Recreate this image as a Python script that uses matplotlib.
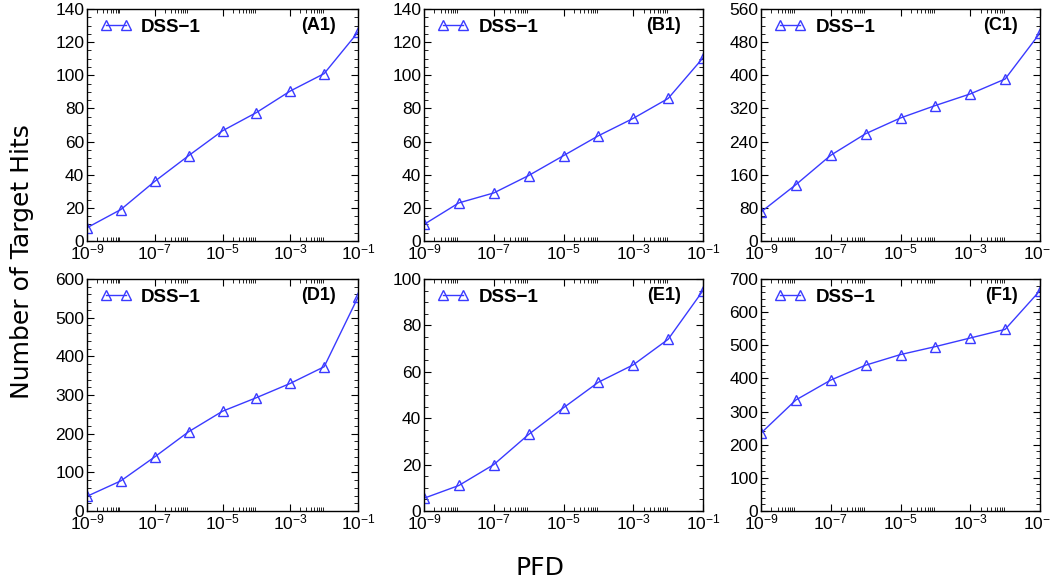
import numpy as np
import matplotlib
matplotlib.use("Agg")
import matplotlib.pyplot as plt
from matplotlib.ticker import FixedLocator, MultipleLocator

plt.rcParams['font.family'] = ['Liberation Sans', 'DejaVu Sans']
plt.rcParams['mathtext.fontset'] = 'custom'
plt.rcParams['mathtext.rm'] = 'Liberation Sans'
plt.rcParams['mathtext.it'] = 'Liberation Sans:italic'
plt.rcParams['mathtext.bf'] = 'Liberation Sans:bold'

# PFD values (x) and target hits for each panel
pfd = [1e-9, 1e-8, 1e-7, 1e-6, 1e-5, 1e-4, 1e-3, 1e-2, 1e-1]
hits_a1 = [8, 19, 36, 51.5, 66.5, 77.5, 90.5, 101, 126]
hits_b1 = [10, 23, 29, 39.5, 51.5, 63.5, 74, 86, 110.5]
hits_c1 = [70, 136, 207, 259, 297, 327, 355, 391, 502]
hits_d1 = [38, 78, 140, 205, 258, 293, 330, 373, 553]
hits_e1 = [5.5, 11, 20, 33, 44.5, 55.5, 63, 74, 95]
hits_f1 = [235, 335, 395, 440, 472, 496, 522, 548, 665]

panel_names = ["(A1)", "(B1)", "(C1)", "(D1)", "(E1)", "(F1)"]
panel_data = [hits_a1, hits_b1, hits_c1, hits_d1, hits_e1, hits_f1]
y_max = [140, 140, 560, 600, 100, 700]
y_major = [20, 20, 80, 100, 20, 100]
y_minor = [5, 5, 20, 20, 5, 20]

fig = plt.figure(figsize=(10.5, 5.82), dpi=100)
W, H = 1050, 582
lefts = [87, 424, 761]
widths = [271, 279, 279]
tops = [9, 279]
height = 232

major_x = [1e-9, 1e-7, 1e-5, 1e-3, 1e-1]
minor_x = [k * 10.0 ** d for d in (-9, -7, -5, -3) for k in range(2, 10)]

for i in range(6):
    r, c = divmod(i, 3)
    ax = fig.add_axes([lefts[c] / W, 1 - (tops[r] + height) / H, widths[c] / W, height / H])
    ax.plot(pfd, panel_data[i], color='#3a3aff', lw=1.0, marker='^', ms=7,
            mfc='none', mec='#3a3aff', mew=1.0, label='DSS\u22121')
    ax.set_xscale('log')
    ax.set_xlim(1e-9, 1e-1)
    ax.set_ylim(0, y_max[i])
    ax.xaxis.set_major_locator(FixedLocator(major_x))
    ax.xaxis.set_minor_locator(FixedLocator(minor_x))
    ax.set_xticklabels([r'$10^{-9}$', r'$10^{-7}$', r'$10^{-5}$', r'$10^{-3}$', r'$10^{-1}$'])
    ax.yaxis.set_major_locator(MultipleLocator(y_major[i]))
    ax.yaxis.set_minor_locator(MultipleLocator(y_minor[i]))
    ax.tick_params(which='both', direction='in', top=True, right=True, labelsize=12.5)
    ax.tick_params(which='major', length=5, width=0.8)
    ax.tick_params(which='minor', length=3, width=0.6)
    ax.tick_params(axis='x', pad=1)
    ax.tick_params(axis='y', pad=2)
    for s in ax.spines.values():
        s.set_linewidth(1.0)
    ax.legend(loc='upper left', bbox_to_anchor=(0.02, 0.99), frameon=False, numpoints=2,
              handlelength=1.7, prop={'weight': 'bold', 'size': 13.5}, borderaxespad=0.0,
              handletextpad=0.5)
    ax.text(0.92, 0.93, panel_names[i], transform=ax.transAxes, ha='right', va='center',
            fontsize=13, fontweight='bold')

fig.text(22 / W, 1 - 262 / H, 'Number of Target Hits', rotation=90, ha='center', va='center',
         fontsize=18, family=['DejaVu Sans'])
fig.text(540 / W, 1 - 568 / H, 'PFD', ha='center', va='center', fontsize=18, family=['DejaVu Sans'])

fig.savefig('out.png', dpi=100)
